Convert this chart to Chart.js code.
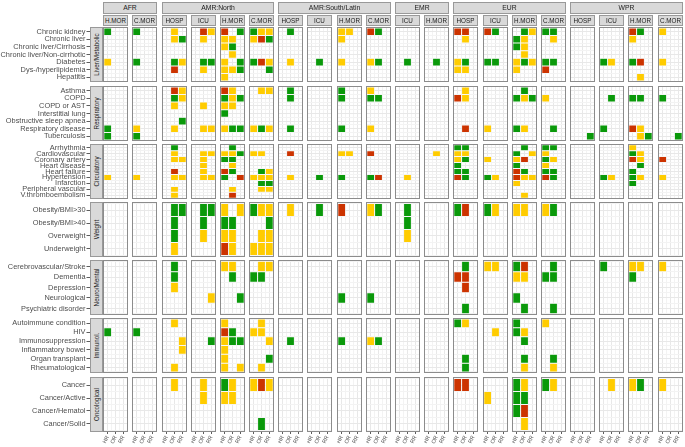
<!DOCTYPE html>
<html><head><meta charset="utf-8">
<script src="https://cdn.jsdelivr.net/npm/chart.js@4.4.1/dist/chart.umd.min.js"></script>
<style>
html,body{margin:0;padding:0;background:#fff;}
#wrap{position:relative;width:685px;height:447px;overflow:hidden;font-family:"Liberation Sans",Arial,sans-serif;}
#wrap canvas{position:absolute;}
.strip{position:absolute;background:#d9d9d9;border:1px solid #999;box-sizing:border-box;display:flex;align-items:center;justify-content:center;color:#1a1a1a;overflow:hidden;white-space:nowrap;z-index:2;}
.frame{position:absolute;border:1px solid #8c8c8c;box-sizing:border-box;pointer-events:none;z-index:2;}
.rstrip span{transform:rotate(-90deg);display:block;white-space:nowrap;}
</style></head><body><div id="wrap"></div>
<script>
// ---------- categories ----------
const regions = ["AFR","AMR:North","AMR:South/Latin","EMR","EUR","WPR"];
const regionOutcomes = [["H.MOR","C.MOR"],["HOSP","ICU","H.MOR","C.MOR"],["HOSP","ICU","H.MOR","C.MOR"],["ICU","H.MOR"],["HOSP","ICU","H.MOR","C.MOR"],["HOSP","ICU","H.MOR","C.MOR"]];
const measures = ["HR","OR","RR"];
const groupNames = ["Liver/Metabolic","Respiratory","Circulatory","Weight","Neuro/Mental","Immunol.","Oncological"];

// ---------- values: one string per condition, 20 panels (AFR H.MOR ... WPR C.MOR), each HR/OR/RR ----------
// G = green, Y = yellow, R = red, . = none
const liverLabels = ["Chronic kidney","Chronic liver","Chronic liver/Cirrhosis","Chronic liver/Non-cirrhotic","Diabetes","Dys-/hyperlipidemia","Hepatitis"];
const liverTiles = [
 "G.. G.. .Y. .RY R.G GYY .G. ... YY. RG. ... ... RR. RG. .GY GG. ... ... RG. Y..",
 "... ... .YG .Y. YY. YRG ... ... Y.. ... ... ... .Y. ... GY. .Y. ... ... Y.. ...",
 "... ... ... ... YG. ... ... ... ... ... ... ... ... ... GY. ... ... ... ... ...",
 "... ... ... ... .Y. ... ... ... ... ... ... ... ... ... .Y. ... ... ... ... ...",
 "Y.. G.. .GY .GG Y.G GRY .Y. .G. Y.. YG. .G. .G. YG. GG. YGY GG. ... GY. GR. Y..",
 "... ... .R. .Y. YYG ..G ... ... ... ... ... ... YY. ... Y.. R.. ... ... ... ...",
 "... ... ... ... Y.. ... ... ... ... ... ... ... ... ... ... ... ... ... .Y. ..."
];
const respLabels = ["Asthma","COPD","COPD or AST","Interstitial lung","Obstructive sleep apnea","Respiratory disease","Tuberculosis"];
const respTiles = [
 "... ... .RY ... RY. .YY .G. ... G.. Y.. ... ... .Y. ... .G. ... ... ... ... ...",
 "... ... .GY ... GYG ... .G. ... G.. GG. ... ... RY. ... GYG Y.. ... .G. GG. G..",
 "... ... .Y. .Y. YY. ... ... ... ... ... ... ... ... ... ... ... ... ... ... ...",
 "... ... ... ... G.. ... ... ... ... ... ... ... ... ... ... ... ... ... ... ...",
 "... ... ..G ... ... ... ... ... ... ... ... ... ... ... ... ... ... ... ... ...",
 "G.. Y.. .Y. .YY YGG YGY .G. ... G.. Y.. ... ... .R. Y.. GY. .G. ... G.. RY. ...",
 "G.. G.. ... ... ... ... ... ... ... ... ... ... ... ... ... ... ..G ... .YG ..G"
];
const circLabels = ["Arrhythmia","Cardiovascular","Coronary artery","Heart disease","Heart failure","Hypertension","Infarction","Peripheral vascular","V.thromboembolism"];
const circTiles = [
 "... ... .G. ... .G. ... ... ... ... ... ... ... GG. ... .G. GG. ... ... Y.. ...",
 "... ... .Y. .YY YYG YY. .R. ... YY. R.. ... .Y. YY. ... G.Y Y.. ... ... GY. ...",
 "... ... .YY .Y. GG. ... ... ... ... ... ... ... YG. Y.. YR. GY. ... ... RY. R..",
 "... ... ... .Y. .Y. ... ... ... ... ... ... ... G.. ... G.. Y.. ... ... .G. ...",
 "... ... .R. .Y. RG. .GY ... ... ... ... ... ... GG. ... RG. GG. ... ... G.. ...",
 "Y.. Y.. .YY .YY G.R YYY .Y. .G. G.. GR. .Y. ... RG. GY. RYY RG. ... GY. GY. Y..",
 "... ... ... ... ... .GG ... ... ... ... ... ... ... ... Y.. ... ... ... G.. ...",
 "... ... .Y. ... .Y. .YY ... ... ... ... ... ... ... ... ... ... ... ... ... ...",
 "... ... .Y. ... .R. ... ... ... ... ... ... ... ... ... .Y. ... ... ... ... ..."
];
const weightLabels = ["Obesity/BMI>30","Obesity/BMI>40","Overweight","Underweight"];
const weightTiles = [
 "... ... .GG .GG Y.Y GYY .Y. .G. R.. YG. .G. ... GR. GY. YY. YG. ... ... ... ...",
 "... ... .G. .G. GG. ..G ... ... ... ... .G. ... ... ... ... ... ... ... ... ...",
 "... ... .G. .Y. YY. .YY ... ... ... ... .Y. ... ... ... ... ... ... ... ... ...",
 "... ... .Y. ... RY. YYY ... ... ... ... ... ... ... ... ... ... ... ... ... ..."
];
const neuroLabels = ["Cerebrovascular/Stroke","Dementia","Depression","Neurological","Psychiatric disorder"];
const neuroTiles = [
 "... ... .G. ... YY. .YY ... ... ... ... ... ... .G. YY. GR. .G. ... G.. YY. Y..",
 "... ... .G. ... .G. GG. ... ... ... ... ... ... RR. ... YY. GG. ... ... G.. ...",
 "... ... .Y. ... ... ... ... ... ... ... ... ... .R. ... ... ... ... ... ... ...",
 "... ... ... ..Y ..G ... ... ... G.. G.. ... ... ... ... G.. ... ... ... ... ...",
 "... ... ... ... ... ... ... ... ... ... ... ... .G. ... .G. .G. ... ... ... ..."
];
const immunoLabels = ["Autoimmune condition","HIV","Immunosuppression","Inflammatory bowel","Organ transplant","Rheumatological"];
const immunoTiles = [
 "... ... .Y. ... Y.. .Y. ... ... ... ... ... ... GY. ... G.. Y.. ... ... ... ...",
 "G.. G.. ... ... RG. YY. ... ... ... ... ... ... ... .Y. GY. ... ... ... ... ...",
 "... ... ..Y ..G YGG ..Y .G. ... G.. YG. ... ... ... ... .G. ... ... ... ... ...",
 "... ... ..Y ... Y.. ... ... ... ... ... ... ... ... ... ... ... ... ... ... ...",
 "... ... ... ... Y.. ..G ... ... ... ... ... ... .G. ... .G. .G. ... ... ... ...",
 "... ... .Y. ... Y.Y .Y. ... ... ... ... ... ... .G. ... .Y. .Y. ... ... ... ..."
];
const oncoLabels = ["Cancer","Cancer/Active","Cancer/Hematol","Cancer/Solid"];
const oncoTiles = [
 "... ... .Y. .Y. GY. YRY ... ... ... ... ... ... RR. ... GY. GY. ... .Y. YG. Y..",
 "... ... ... .Y. YY. ... ... ... ... ... ... ... ... Y.. GG. ... ... ... ... ...",
 "... ... ... ... ... ... ... ... ... ... ... ... ... ... GR. ... ... ... ... ...",
 "... ... ... ... ... .G. ... ... ... ... ... ... ... ... .Y. ... ... ... ... ..."
];
const groupLabels = [liverLabels,respLabels,circLabels,weightLabels,neuroLabels,immunoLabels,oncoLabels];
const groupTiles = [liverTiles,respTiles,circTiles,weightTiles,neuroTiles,immunoTiles,oncoTiles];

// ---------- styles / layout ----------
const COLORS = {G:"#0a990a", Y:"#ffcc00", R:"#cc3300"};
const FONT = "'Liberation Sans', Arial, sans-serif";
Chart.defaults.font.family = FONT;
const W = 685, H = 447;
const X0 = 103.3, XP = 29.17, PW = 25, Y0 = 27.3, YP = 58.23, PH = 55;
const panelLeft = i => Math.round(X0 + i * XP);
const panelTop = j => Math.round(Y0 + j * YP);
const wrap = document.getElementById('wrap');

function div(cls, l, t, w, h, html, fs) {
  const d = document.createElement('div');
  d.className = cls;
  Object.assign(d.style, {left: l + 'px', top: t + 'px', width: w + 'px', height: h + 'px'});
  if (fs) d.style.fontSize = fs + 'px';
  if (html !== undefined) d.innerHTML = html;
  wrap.appendChild(d);
  return d;
}

const panelOutcomes = [];
regions.forEach((r, ri) => regionOutcomes[ri].forEach(o => panelOutcomes.push({region: ri, outcome: o})));

const isInt = v => Math.abs(v - Math.round(v)) < 1e-6;

function makePanel(j, i) {
  const labels = groupLabels[j];
  const n = labels.length;
  const pl = panelLeft(i), pt = panelTop(j);
  const cl = i === 0 ? 0 : pl;
  const cw = pl + PW - cl;
  const ch = j === groupLabels.length - 1 ? H - pt : PH;
  const yAxisW = pl - cl;
  const xAxisH = ch - PH;
  const cv = document.createElement('canvas');
  cv.width = cw; cv.height = ch;
  cv.style.left = cl + 'px'; cv.style.top = pt + 'px';
  cv.style.width = cw + 'px'; cv.style.height = ch + 'px';
  wrap.appendChild(cv);

  const buckets = {G: [], Y: [], R: []};
  groupTiles[j].forEach((rowStr, r) => {
    const trip = rowStr.split(' ')[i];
    for (let k = 0; k < 3; k++) {
      const c = trip[k];
      if (buckets[c]) buckets[c].push({x: k + 1, y: [r + 0.5, r + 1.5]});
    }
  });
  const datasets = Object.keys(buckets).map(c => ({
    data: buckets[c], backgroundColor: COLORS[c], borderColor: 'rgba(255,255,255,0.85)',
    borderWidth: 0.5, borderSkipped: false, grouped: false, barPercentage: 2, categoryPercentage: 1, inflateAmount: 0
  }));

  const gridColor = ctx => (ctx.tick && isInt(ctx.tick.value)) ? '#e8e8e8' : '#f3f3f3';
  const tickCol = ctx => (ctx.tick && isInt(ctx.tick.value)) ? '#333333' : 'rgba(0,0,0,0)';
  const xt = [0.5, 1, 1.5, 2, 2.5, 3, 3.5];
  const yt = []; for (let v = 0.5; v <= n + 0.5 + 1e-9; v += 0.5) yt.push(v);

  new Chart(cv, {
    type: 'bar',
    data: {datasets},
    options: {
      responsive: false, animation: false, devicePixelRatio: 1, events: [],
      layout: {padding: 0},
      plugins: {legend: {display: false}, tooltip: {enabled: false}},
      scales: {
        x: {
          type: 'linear', min: 0.4, max: 3.6, offset: false,
          afterBuildTicks: s => { s.ticks = xt.map(v => ({value: v})); },
          afterFit: s => { s.height = xAxisH; s.paddingLeft = 0; s.paddingRight = 0; },
          border: {display: false},
          grid: {offset: false, color: gridColor, lineWidth: 1, drawTicks: xAxisH > 0, tickLength: 2, tickColor: tickCol, tickWidth: 0.8},
          ticks: {display: xAxisH > 0, autoSkip: false, minRotation: 65, maxRotation: 65, padding: 0.5,
            font: {size: 5.5, family: FONT}, color: '#4d4d4d',
            callback: v => isInt(v) ? measures[Math.round(v) - 1] : ''}
        },
        y: {
          type: 'linear', reverse: true, min: 0.38, max: n + 0.62, offset: false,
          afterBuildTicks: s => { s.ticks = yt.map(v => ({value: v})); },
          afterFit: s => { s.width = yAxisW; s.paddingTop = 0; s.paddingBottom = 0; },
          border: {display: false},
          grid: {offset: false, color: gridColor, lineWidth: 1, drawTicks: yAxisW > 0, tickLength: Math.max(yAxisW - 86.5, 1), tickColor: tickCol, tickWidth: 0.8},
          ticks: {display: yAxisW > 0, autoSkip: false, padding: 1,
            font: {size: 7.4, family: FONT}, color: '#4d4d4d',
            callback: v => isInt(v) ? labels[Math.round(v) - 1] : ''}
        }
      }
    }
  });
  div('frame', pl, pt, PW, PH);
}

for (let j = 0; j < groupLabels.length; j++)
  for (let i = 0; i < panelOutcomes.length; i++) makePanel(j, i);

// header strips
let idx = 0;
regions.forEach((r, ri) => {
  const first = idx, last = idx + regionOutcomes[ri].length - 1;
  const l = panelLeft(first), rr = panelLeft(last) + PW;
  div('strip', l, 2, rr - l, 11.5, r, 6.8);
  regionOutcomes[ri].forEach((o, k) => div('strip', panelLeft(first + k), 14.5, PW, 11.5, o, 6.3));
  idx = last + 1;
});
// row strips
groupNames.forEach((g, j) => {
  const d = div('strip rstrip', 90, panelTop(j), 13, PH, '<span>' + g + '</span>', 6.3);
});
</script></body></html>
